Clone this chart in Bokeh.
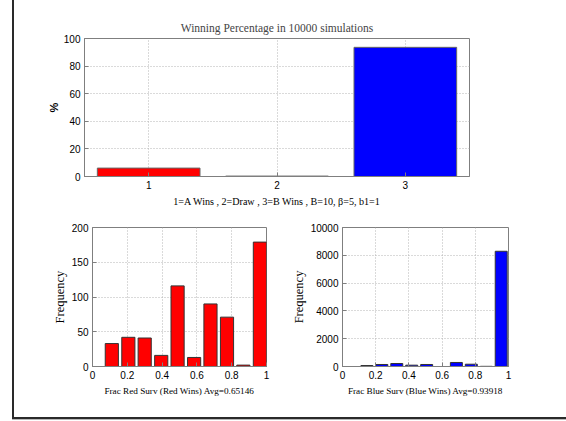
from bokeh.plotting import figure
from bokeh.layouts import column, row
from bokeh.models import FixedTicker, NumeralTickFormatter, Range1d
from bokeh.embed import file_html
from bokeh.resources import INLINE

# Outcome shares over 10000 simulated battles
outcomes = [1, 2, 3]
outcome_pct = [6.1, 0.3, 93.6]
outcome_colors = ["#ff0000", "#ff0000", "#0000ff"]

# Surviving-fraction histograms (10 bins each)
red_centers = [0.111, 0.206, 0.300, 0.395, 0.489, 0.584, 0.678, 0.773, 0.867, 0.962]
red_counts = [33, 42, 41, 16, 116, 13, 90, 71, 2, 179]
blue_centers = [0.147, 0.237, 0.327, 0.417, 0.507, 0.596, 0.686, 0.776, 0.866, 0.956]
blue_counts = [70, 145, 215, 95, 145, 0, 290, 165, 12, 8290]

SERIF = "Liberation Serif"
SANS = "Liberation Sans"
AXIS_GREY = "#7f7f7f"
GRID_GREY = "#b4b4b4"


def style(p, xlabel, ylabel, ylabel_font, ylabel_bold=False):
    p.outline_line_color = AXIS_GREY
    p.background_fill_color = "white"
    p.border_fill_color = "white"
    for ax in (p.xaxis[0], p.yaxis[0]):
        ax.axis_line_color = AXIS_GREY
        ax.major_tick_line_color = AXIS_GREY
        ax.major_tick_in = 4
        ax.major_tick_out = 0
        ax.minor_tick_line_color = None
        ax.major_label_text_font = SANS
        ax.major_label_text_font_size = "10px"
        ax.major_label_text_color = "black"
        ax.major_label_standoff = 4
        ax.axis_label_text_color = "black"
        ax.axis_label_text_font_style = "normal"
        ax.axis_label_standoff = 4
    p.yaxis.axis_label_standoff = 2
    p.xaxis.axis_label = xlabel
    p.xaxis.axis_label_text_font = SERIF
    p.xaxis.axis_label_text_font_size = "9.2px"
    p.yaxis.axis_label = ylabel
    p.yaxis.axis_label_text_font = ylabel_font
    p.yaxis.axis_label_text_font_size = "12.5px"
    if ylabel_bold:
        p.yaxis.axis_label_text_font_style = "bold"
    for g in (p.xgrid[0], p.ygrid[0]):
        g.grid_line_color = GRID_GREY
        g.grid_line_dash = "1 2"


# Top panel: winning percentage per outcome
top = figure(width=552, height=210, output_backend="svg", toolbar_location=None,
             x_range=Range1d(0.5, 3.5), y_range=Range1d(0, 100),
             min_border_left=70, min_border_right=97, min_border_top=38, min_border_bottom=34)
top.vbar(x=outcomes, top=outcome_pct, width=0.8, fill_color=outcome_colors,
         line_color="#666666", line_width=1)
top.xaxis.ticker = FixedTicker(ticks=outcomes)
top.yaxis.ticker = FixedTicker(ticks=[0, 20, 40, 60, 80, 100])
style(top, "1=A Wins , 2=Draw , 3=B Wins , B=10, \u03b2=5, b1=1", "%", SANS, ylabel_bold=True)
top.xaxis.axis_label_text_font_size = "10.1px"
top.yaxis.axis_label_text_font_size = "11px"
top.yaxis.axis_label_standoff = 1
top.title.text = "Winning Percentage in 10000 simulations"
top.title.align = "center"
top.title.text_font = SERIF
top.title.text_font_size = "11.5px"
top.title.text_font_style = "normal"

# Bottom left: red survivors when red wins
bl = figure(width=274, height=207, output_backend="svg", toolbar_location=None,
            x_range=Range1d(0, 1), y_range=Range1d(0, 200),
            min_border_left=78, min_border_right=22, min_border_top=17, min_border_bottom=51)
bl.vbar(x=red_centers, top=red_counts, width=0.0756, fill_color="#ff0000",
        line_color="#333333", line_width=1)
bl.xaxis.ticker = FixedTicker(ticks=[0, 0.2, 0.4, 0.6, 0.8, 1])
bl.xaxis.formatter = NumeralTickFormatter(format="0.[0]")
bl.yaxis.ticker = FixedTicker(ticks=[0, 50, 100, 150, 200])
style(bl, "Frac Red Surv (Red Wins) Avg=0.65146", "Frequency", SERIF)

# Bottom right: blue survivors when blue wins
br = figure(width=278, height=207, output_backend="svg", toolbar_location=None,
            x_range=Range1d(0, 1), y_range=Range1d(0, 10000),
            min_border_left=44, min_border_right=58, min_border_top=17, min_border_bottom=51)
br.vbar(x=blue_centers, top=blue_counts, width=0.072, fill_color="#0000ff",
        line_color="#333333", line_width=1)
br.xaxis.ticker = FixedTicker(ticks=[0, 0.2, 0.4, 0.6, 0.8, 1])
br.xaxis.formatter = NumeralTickFormatter(format="0.[0]")
br.yaxis.ticker = FixedTicker(ticks=[0, 2000, 4000, 6000, 8000, 10000])
style(br, "Frac Blue Surv (Blue Wins) Avg=0.93918", "Frequency", SERIF)

root = column(top, row(bl, br), margin=(0, 0, 0, 12),
              styles={"border-left": "2px solid #2a2a2a",
                      "border-bottom": "2px solid #2a2a2a",
                      "box-shadow": "0 1px 0 #b8b8b8"})

open("out.html", "w").write(file_html(root, INLINE))
